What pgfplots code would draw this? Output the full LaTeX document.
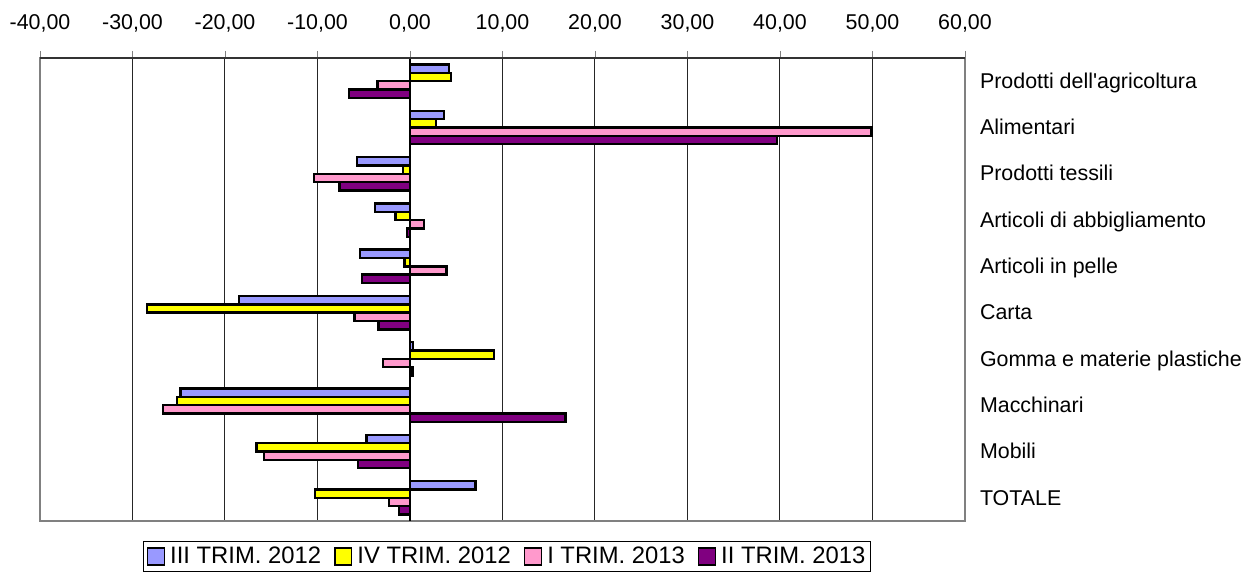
\documentclass[border=0pt]{standalone}
\usepackage{pgfplots}
\pgfplotsset{compat=1.18}
\usepackage{pgfplotstable}
\usepackage{fontspec}
\setmainfont{Liberation Sans}

\definecolor{cIII}{HTML}{9999FF}
\definecolor{cIV}{HTML}{FFFF00}
\definecolor{cI}{HTML}{FF99CC}
\definecolor{cII}{HTML}{800080}

% valori, una riga per settore
\pgfplotstableread{
cat blue yellow pink purple
0 4.2 4.45 -3.5 -6.6
1 3.7 2.8 49.9 39.7
2 -5.7 -0.75 -10.4 -7.6
3 -3.8 -1.55 1.5 -0.3
4 -5.4 -0.6 3.95 -5.2
5 -18.5 -28.4 -6.0 -3.4
6 0.35 9.05 -2.9 0.25
7 -24.8 -25.2 -26.7 16.8
8 -4.7 -16.6 -15.8 -5.6
9 7.1 -10.3 -2.3 -1.2
}\dati

\begin{document}
\begin{tikzpicture}[font=\fontsize{10.7}{12}\selectfont]
\begin{axis}[
    xbar,
    scale only axis,
    width=462.5pt, height=231.5pt,
    xmin=-40, xmax=60,
    ymin=-0.5, ymax=9.5,
    y dir=reverse,
    xtick={-40,-30,...,60},
    xticklabel pos=upper,
    xtick pos=upper,
    xtick align=outside,
    major tick length=3.5pt,
    xticklabel style={yshift=6pt},
    /pgf/number format/.cd, fixed, fixed zerofill, precision=2, use comma, assume math mode=true,
    /pgfplots/.cd,
    ytick={0,...,9},
    yticklabels={Prodotti dell\textquotesingle agricoltura, Alimentari, Prodotti tessili,
        Articoli di abbigliamento, Articoli in pelle, Carta,
        Gomma e materie plastiche, Macchinari, Mobili, TOTALE},
    yticklabel pos=right,
    ytick style={draw=none},
    yticklabel style={anchor=base west, xshift=0.5pt, yshift=-0.36em},
    xmajorgrids,
    grid style={black!85, line width=0.5pt},
    axis line style={draw=black!50, line width=1pt},
    extra x ticks={0},
    extra x tick labels={},
    extra x tick style={grid style={black, line width=1pt}, major tick length=0pt},
    bar width=0.18,
    legend columns=4,
    legend style={at={(0.505,0)}, anchor=north, yshift=-10pt,
        draw=black, line width=0.5pt, inner sep=1.5pt,
        font=\fontsize{11.9}{13}\selectfont,
        nodes={inner sep=1pt},
        /tikz/every odd column/.append style={column sep=1.5pt},
        /tikz/every even column/.append style={column sep=5.5pt}},
    legend image code/.code={\draw[#1, line width=0.8pt] (0pt,-4.2pt) rectangle (8.4pt,4.2pt);},
]
\draw[black!80, line width=1.5pt] (rel axis cs:0,1) -- (rel axis cs:1,1);
\addplot[fill=cIII, draw=black, line width=1.2pt, bar shift=-0.27] table[x=blue, y=cat] {\dati};
\addplot[fill=cIV, draw=black, line width=1.2pt, bar shift=-0.09] table[x=yellow, y=cat] {\dati};
\addplot[fill=cI, draw=black, line width=1.2pt, bar shift=0.09] table[x=pink, y=cat] {\dati};
\addplot[fill=cII, draw=black, line width=1.2pt, bar shift=0.27] table[x=purple, y=cat] {\dati};
\legend{III TRIM. 2012, IV TRIM. 2012, I TRIM. 2013, II TRIM. 2013}
\coordinate (sw) at (rel axis cs:0,0);
\end{axis}
\pgfresetboundingbox
\path (sw) ++(-20pt,-25.5pt) rectangle ++(625pt,286pt);
\end{tikzpicture}
\end{document}
